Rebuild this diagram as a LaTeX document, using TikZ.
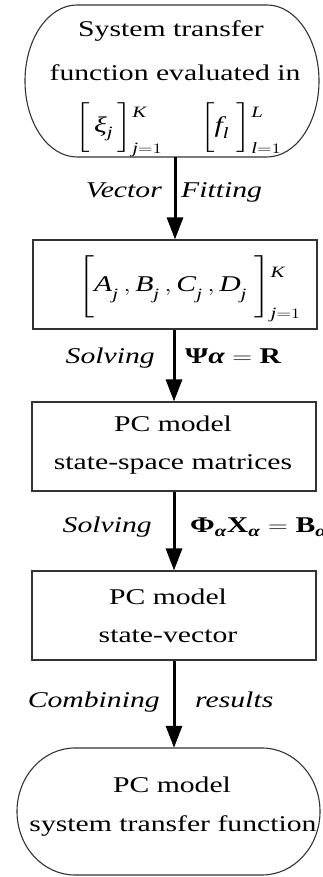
\documentclass[tikz,border=0pt]{standalone}
\usepackage{fontspec}
\usepackage{amsmath}
\usepackage{graphicx}
\setmainfont{Liberation Serif}
\usetikzlibrary{arrows.meta}
\newcommand\sx[1]{\scalebox{1.32}[1]{#1}}
\newcommand\mi[1]{\text{\itshape #1}}
\newcommand\mb[1]{\text{\bfseries #1}}
\newcommand\mbi[1]{\text{\bfseries\itshape #1}}
\newcommand\lj{\lower4pt\hbox{$\scriptstyle\mi{j}$}}
\newcommand\supdown[2]{\smash{\lower#1\hbox{$\scriptstyle\mi{#2}$}}}
\delimitershortfall=0pt
\delimiterfactor=1000
\begin{document}
\begin{tikzpicture}[x=1pt,y=1pt,
  frame/.style={draw=black!80, line width=1.1pt},
  box/.style={frame, minimum width=284pt, minimum height=89pt, inner sep=0pt},
  hold/.style={inner sep=0pt},
  txt/.style={anchor=base, inner sep=0pt, font=\fontsize{22.5}{27}\selectfont},
  flow/.style={line width=3pt, -{Triangle[length=22pt,width=16pt]}}]
\useasboundingbox (0,0) rectangle (322,877);

% top stadium
\node[hold, minimum width=294pt, minimum height=152pt] (top) at (172,796) {};
\draw[frame] (77,872) -- (267,872) arc[start angle=90,end angle=-90,x radius=52,y radius=76]
  -- (77,720) arc[start angle=270,end angle=90,x radius=52,y radius=76] -- cycle;
\node[txt] (t1a) at (171,840) {\sx{System transfer}};
\node[txt] (t1b) at (175,796) {\sx{function evaluated in}};
\node[txt, anchor=base west] (t1c) at (75,744)
  {\sx{\smash{$\left[\rule[-14pt]{0pt}{38pt}\,\mi{ξ}_{\mi{j}}\,\right]_{\mi{j}=1}^{\supdown{9pt}{K}}$}}};
\node[txt, anchor=base west] (t1d) at (200,744)
  {\sx{\smash{$\left[\rule[-14pt]{0pt}{38pt}\mi{f}_{\mi{l}}\;\right]_{\mi{l}=1}^{\supdown{9pt}{L}}$}}};

% box 2
\node[box] (b2) at (175,592.5) {};
\node[txt, anchor=base west] (t2) at (78,585)
  {\sx{\smash{$\left[\rule[-20pt]{0pt}{48pt}\mi{A}_{\lj}\,,\mi{B}_{\lj}\,,\mi{C}_{\lj}\,,\mi{D}_{\lj}\;\right]_{\mi{j}=1}^{\supdown{16pt}{K}}$}}};

% box 3
\node[box] (b3) at (174,430.5) {};
\node[txt] (t3a) at (173,445) {\sx{PC model}};
\node[txt] (t3b) at (173,407) {\sx{state-space matrices}};

% box 4
\node[box] (b4) at (174,261.5) {};
\node[txt] (t4a) at (168,272) {\sx{PC model}};
\node[txt] (t4b) at (168,234) {\sx{state-vector}};

% bottom stadium
\node[hold, minimum width=303pt, minimum height=127pt] (bot) at (168.5,65.5) {};
\draw[frame] (75,129) -- (262,129) arc[start angle=90,end angle=-90,x radius=58,y radius=63.5]
  -- (75,2) arc[start angle=270,end angle=90,x radius=58,y radius=63.5] -- cycle;
\node[txt] (t5a) at (172,84) {\sx{PC model}};
\node[txt] (t5b) at (173,45) {\sx{system transfer function}};

% arrows
\draw[flow] (top.south -| b2.north) -- (b2.north);
\draw[flow] (b2.south -| b3.north) -- (b3.north);
\draw[flow] (b3.south) -- (b4.north);
\draw[flow] (b4.south) -- (b4.south |- bot.north);

% labels
\node[txt, anchor=base east] (l1a) at (162,679) {\sx{\itshape Vector}};
\node[txt, anchor=base west] (l1b) at (181,679) {\sx{\itshape Fitting}};
\node[txt, anchor=base east] (l2a) at (155,513) {\sx{\itshape Solving}};
\node[txt, anchor=base west] (l2b) at (185,513) {\sx{$\mb{Ψ}\mbi{α}=\mb{R}$}};
\node[txt, anchor=base east] (l3a) at (152,344) {\sx{\itshape Solving}};
\node[txt, anchor=base west] (l3b) at (190,344) {\sx{$\mb{Φ}_{\mbi{α}}\mb{X}_{\mbi{α}}=\mb{B}_{\mbi{α}}$}};
\node[txt, anchor=base east] (l4a) at (160,169) {\sx{\itshape Combining}};
\node[txt, anchor=base west] (l4b) at (195,169) {\sx{\itshape results}};
\end{tikzpicture}
\end{document}
